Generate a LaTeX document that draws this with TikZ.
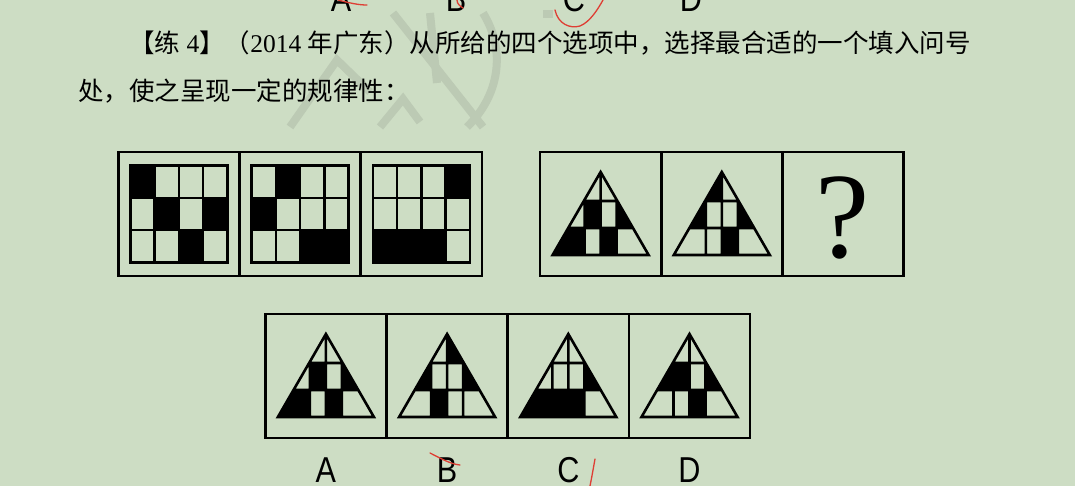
\documentclass[tikz,border=0pt]{standalone}
\usepackage{fontspec}
\newfontfamily\cjk{Noto Sans CJK SC}
\newfontfamily\serif{Liberation Serif}
\newfontfamily\labfont{Liberation Sans}
\usetikzlibrary{positioning}
\definecolor{paper}{RGB}{205,221,196}
\definecolor{wmark}{RGB}{188,202,180}
\definecolor{pen}{RGB}{222,62,52}
\tikzset{x=1pt, y=-1pt,
         node distance=0pt,
         cell/.style={draw, line width=2.6pt, minimum width=121.2pt, minimum height=124pt, inner sep=0pt, outer sep=0pt},
         gridline/.style={line width=2.6pt},
         triline/.style={line width=2.6pt},
         txt/.style={inner sep=0pt, font=\serif\fontsize{25.5}{25.5}\selectfont},
         lbl/.style={inner sep=0pt, anchor=base, font=\labfont\fontsize{36}{36}\selectfont},
         penmark/.style={pen, line width=1.3pt, line cap=round},
         wm/.style={wmark, line width=8pt},
         % pieces of the triangle, around the cell centre
         tl/.pic={\fill (0,-42) -- (-16.77,-13) -- (0,-13) -- cycle;},
         tr/.pic={\fill (0,-42) -- (16.77,-13) -- (0,-13) -- cycle;},
         ml/.pic={\fill (-16.77,-13) -- (-32.39,14) -- (-16,14) -- (-16,-13) -- cycle;},
         mls/.pic={\fill (-16,-13) rectangle (0,14);},
         mrs/.pic={\fill (0,-13) rectangle (16,14);},
         mr/.pic={\fill (16.77,-13) -- (32.39,14) -- (16,14) -- (16,-13) -- cycle;},
         bl/.pic={\fill (-32.39,14) -- (-48,41) -- (-16,41) -- (-16,14) -- cycle;},
         bls/.pic={\fill (-16,14) rectangle (0,41);},
         brs/.pic={\fill (0,14) rectangle (16,41);},
         br/.pic={\fill (32.39,14) -- (48,41) -- (16,41) -- (16,14) -- cycle;},
         tripanel/.pic={
           \foreach \r in {#1} \pic {\r};
           \draw[triline] (0,-42) -- (-48,41) -- (48,41) -- cycle
                          (-16.77,-13) -- (16.77,-13)
                          (-32.39,14) -- (32.39,14)
                          (0,-42) -- (0,41)
                          (-16,-13) -- (-16,41)
                          (16,-13) -- (16,41);
         },
         gridpanel/.pic={
           \foreach \c/\r in {#1} \fill (-48.5+\c*24.25, -48.5+\r*32.33) rectangle ++(24.25,32.33);
           \draw[gridline] (-48.5,-48.5) rectangle (48.5,48.5);
           \foreach \c in {1,2,3} \draw[gridline] (-48.5+\c*24.25,-48.5) -- ++(0,97);
           \foreach \r in {1,2} \draw[gridline] (-48.5,-48.5+\r*32.33) -- ++(97,0);
         },
         }

\begin{document}
\begin{tikzpicture}
    \useasboundingbox (0,0) rectangle (1075,486);
    \fill[paper] (0,0) rectangle (1075,486);
    \clip (0,0) rectangle (1075,486);

    % watermark
    \draw[wm] (393,13) -- (483,127);
    \draw[wm] (483,13) .. controls (506,50) and (500,95) .. (467,127);
    \draw[wm] (430,13) -- (437,83);
    \draw[wm] (543,14) -- (553,14);
    \draw[wm] (290,127) -- (337,60) -- (370,92);
    \draw[wm] (380,127) -- (403,99) -- (420,122);

    % cut-off labels of the previous exercise
    \node[lbl] (ta) at (341,12) {\scalebox{0.85}[1]{A}};
    \node[lbl] (tb) at (456,12) {\scalebox{0.85}[1]{B}};
    \node[lbl] (tc) at (574,12) {\scalebox{0.85}[1]{C}};
    \node[lbl] (td) at (691,12) {\scalebox{0.85}[1]{D}};

    \node[txt, anchor=base west] (l1) at (129,53) {{\cjk 【练} 4{\cjk 】（}2014 {\cjk 年广东）从所给的四个选项中，选择最合适的一个填入问号}};
    \node[txt, anchor=base west] (l2) at (78,101) {\cjk 处，使之呈现一定的规律性：};

    % panels
    \node[cell] (g1) at (178.9,214) {};
    \node[cell, right=of g1] (g2) {};
    \node[cell, right=of g2] (g3) {};
    \node[cell] (q1) at (600.6,214) {};
    \node[cell, right=of q1] (q2) {};
    \node[cell, right=of q2] (q3) {};
    \node[cell] (a1) at (325.9,376) {};
    \node[cell, right=of a1] (a2) {};
    \node[cell, right=of a2] (a3) {};
    \node[cell, right=of a3] (a4) {};

    \pic at (g1.center) {gridpanel={0/0,1/1,3/1,2/2}};
    \pic at (g2.center) {gridpanel={1/0,0/1,2/2,3/2}};
    \pic at (g3.center) {gridpanel={3/0,0/2,1/2,2/2}};

    \pic at (q1.center) {tripanel={mls,mr,bl,brs}};
    \pic at (q2.center) {tripanel={tl,ml,mr,brs}};
    \node[inner sep=0pt, yshift=-4pt, font=\serif\fontsize{122}{122}\selectfont] (qm) at (q3.center) {?};

    \pic at (a1.center) {tripanel={mls,mr,bl,brs}};
    \pic at (a2.center) {tripanel={tr,ml,mr,bls}};
    \pic at (a3.center) {tripanel={mr,bl,bls,brs}};
    \pic at (a4.center) {tripanel={ml,mls,mr,brs}};

    \node[lbl] (la) at (325.9,482) {\scalebox{0.85}[1]{A}};
    \node[lbl] (lb) at (447.1,482) {\scalebox{0.85}[1]{B}};
    \node[lbl] (lc) at (568.3,482) {\scalebox{0.85}[1]{C}};
    \node[lbl] (ld) at (689.5,482) {\scalebox{0.85}[1]{D}};

    % pen marks
    \draw[penmark] (338,0) .. controls (350,3) and (358,5) .. (367,5);
    \draw[penmark] (457,0) .. controls (457,4) and (460,6) .. (463,8);
    \draw[penmark] (555,10) .. controls (558,24) and (570,29) .. (580,26) .. controls (590,22) and (598,9) .. (603,0);
    \draw[penmark] (430,453) .. controls (440,458) and (450,464) .. (460,465);
    \draw[penmark] (595,459) .. controls (593,470) and (592,476) .. (590,486);
\end{tikzpicture}
\end{document}
